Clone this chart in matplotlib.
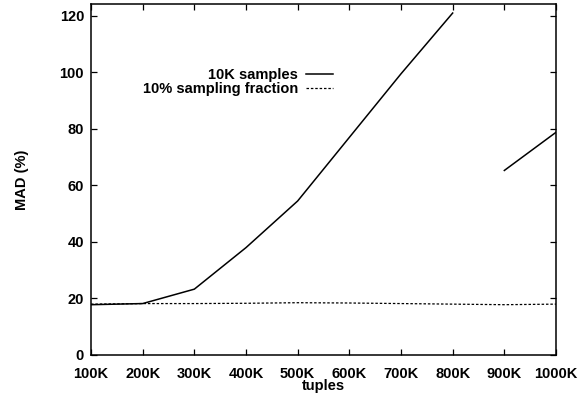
import matplotlib
matplotlib.use("Agg")
import numpy as np
import matplotlib.pyplot as plt

plt.rcParams["font.family"] = ["Liberation Sans", "DejaVu Sans"]
plt.rcParams["font.weight"] = "bold"
plt.rcParams["axes.labelweight"] = "bold"

tuples = [100, 200, 300, 400, 500, 600, 700, 800, 900, 1000]
tick_labels = ["100K", "200K", "300K", "400K", "500K", "600K", "700K", "800K", "900K", "1000K"]

# 10K samples (gap between 800K and 900K where it goes off the top)
samples_10k = [17.8, 18.2, 23.3, 38.0, 54.5, 77.0, 99.5, 121.0, np.nan, 65.3, 78.8]
samples_x = [100, 200, 300, 400, 500, 600, 700, 800, 850, 900, 1000]

# 10% sampling fraction
fraction_10 = [18.0, 18.2, 18.2, 18.3, 18.5, 18.4, 18.2, 18.0, 17.8, 18.0]

fig = plt.figure(figsize=(5.81, 3.95), dpi=100)
ax = fig.add_axes([91 / 581, 1 - 355 / 395, (556 - 91) / 581, (355 - 4) / 395])

ax.plot(samples_x, samples_10k, color="black", lw=1.1, label="10K samples")
ax.plot(tuples, fraction_10, color="black", lw=0.9, ls=(0, (2, 1.5)),
        label="10% sampling fraction")

ax.set_xlim(100, 1000)
ax.set_ylim(0, 124.2)
ax.set_xticks(tuples)
ax.set_xticklabels(tick_labels)
ax.set_yticks([0, 20, 40, 60, 80, 100, 120])
ax.tick_params(direction="in", top=True, right=True, length=4, width=0.9,
               labelsize=10.5)
ax.tick_params(axis="x", pad=9)
ax.tick_params(axis="y", pad=5)
for s in ax.spines.values():
    s.set_linewidth(1.1)

ax.set_xlabel("tuples", fontsize=10.5, labelpad=-2)
ax.set_ylabel("MAD (%)", fontsize=10.5, labelpad=22)

leg = ax.legend(loc="upper right", bbox_to_anchor=(333 / 581, 1 - 68 / 395),
                bbox_transform=fig.transFigure, frameon=False, markerfirst=False,
                fontsize=10.5, handlelength=1.85, handletextpad=0.55,
                labelspacing=0.0, borderaxespad=0, borderpad=0)
for t in leg.get_texts():
    t.set_ha("right")

fig.savefig("out.png", dpi=100)
